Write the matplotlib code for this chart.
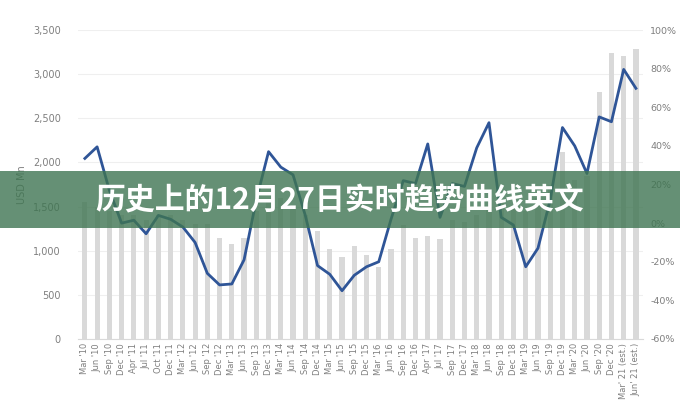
import numpy as np
import matplotlib
matplotlib.use("Agg")
import matplotlib.pyplot as plt
from matplotlib.patches import Rectangle

# quarter labels
quarters = ["Mar '10", "Jun '10", "Sep '10", "Dec '10", "Apr '11", "Jul '11", "Oct '11", "Dec '11",
            "Mar '12", "Jun '12", "Sep '12", "Dec '12", "Mar '13", "Jun '13", "Sep '13", "Dec '13",
            "Mar '14", "Jun '14", "Sep '14", "Dec '14", "Mar '15", "Jun '15", "Sep '15", "Dec '15",
            "Mar '16", "Jun '16", "Sep '16", "Dec '16", "Apr '17", "Jul '17", "Sep '17", "Dec '17",
            "Mar '18", "Jun '18", "Sep '18", "Dec '18", "Mar '19", "Jun '19", "Sep '19", "Dec '19",
            "Mar '20", "Jun '20", "Sep '20", "Dec '20", "Mar' 21 (est.)", "Jun' 21 (est.)"]

# value in USD Mn (bars, left axis)
value_usd = [1550, 1500, 1450, 1400, 1400, 1350, 1400, 1400, 1350, 1300, 1300, 1145,
             1077, 1145, 1450, 1550, 1600, 1500, 1400, 1224, 1020, 930, 1054, 952,
             816, 1020, 1293, 1145, 1168, 1134, 1350, 1327, 1400, 1500, 1550, 1500,
             1450, 1600, 1750, 2120, 1800, 1850, 2800, 3240, 3200, 3290]

# growth in % (line, right axis)
growth_pct = [33.5, 39.5, 17, 0, 1.5, -5.5, 4, 2, -2, -10, -26, -32,
              -31.5, -19, 12, 37, 29, 25, 4, -22, -26.5, -35, -27, -22.6,
              -20, 2, 22, 20.5, 41, 3, 20.5, 19, 39, 52, 3, -1,
              -22.6, -13, 12, 49.5, 40, 25.7, 55, 52.5, 79.6, 69.8]

title_text = "历史上的12月27日实时趋势曲线英文"

grey = "#7f7f7f"
x = np.arange(len(quarters))

fig = plt.figure(figsize=(6.8, 4.0), dpi=100)
ax = fig.add_axes([0.114, 0.1525, 0.832, 0.7725])
ax.bar(x, value_usd, width=0.42, color="#d9d9d9", zorder=2)
ax.set_ylim(0, 3500)
ax.set_yticks(np.arange(0, 3501, 500))
ax.set_yticklabels([f"{v:,}" for v in range(0, 3501, 500)])
ax.yaxis.grid(True, color="#efefef", linewidth=0.8, zorder=0)
ax.set_axisbelow(True)
ax.set_xlim(-0.6, len(quarters) - 0.4)
ax.set_xticks(x)
ax.set_xticklabels(quarters, rotation=90, fontsize=6, color=grey)
ax.set_ylabel("USD Mn", color=grey, fontsize=7, labelpad=4)
ax.tick_params(axis="y", labelsize=7, labelcolor=grey, length=0, pad=12)
ax.tick_params(axis="x", length=0, pad=3)
for s in ax.spines.values():
    s.set_visible(False)
ax.spines["bottom"].set_visible(True)
ax.spines["bottom"].set_color("#d9d9d9")

ax2 = ax.twinx()
ax2.plot(x, growth_pct, color="#2f5597", linewidth=2, zorder=3)
ax2.set_ylim(-60, 100)
ax2.set_yticks(np.arange(-60, 101, 20))
ax2.set_yticklabels([f"{v}%" for v in range(-60, 101, 20)])
ax2.tick_params(axis="y", labelsize=6.8, labelcolor=grey, length=0, pad=5)
for s in ax2.spines.values():
    s.set_visible(False)

# green title banner over the chart
fig.patches.append(Rectangle((0, 1 - 228 / 400), 1, 57 / 400, transform=fig.transFigure,
                             facecolor="#3f7552", alpha=0.8, zorder=10))
fig.text(0.5, 1 - 200 / 400, title_text, ha="center", va="center", color="white",
         fontsize=21.5, fontweight="bold", family=["Noto Sans CJK SC", "DejaVu Sans"], zorder=11)

fig.savefig("out.png", dpi=100)
